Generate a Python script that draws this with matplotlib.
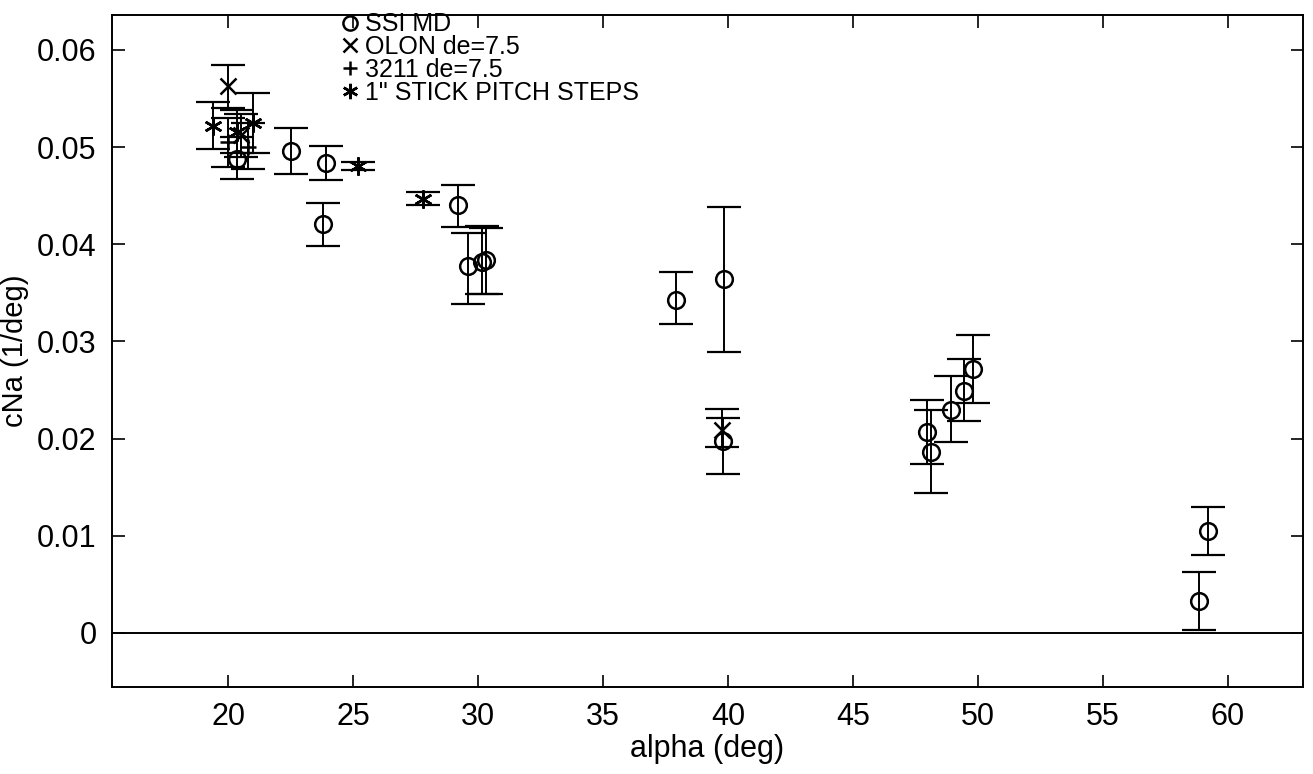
import numpy as np
import matplotlib.pyplot as plt

plt.rcParams['font.family'] = ['Liberation Sans', 'DejaVu Sans']

# SSI MD estimates: alpha, cNa, lower / upper bound of the error bar
ssi_alpha = [20.35, 22.5, 23.9, 23.8, 29.2, 29.6, 30.15, 30.3, 37.9, 39.85, 39.8,
             47.95, 48.1, 48.9, 49.45, 49.8, 58.85, 59.2]
ssi_cna = [0.0488, 0.0496, 0.0484, 0.0421, 0.0440, 0.0378, 0.0382, 0.0384, 0.0343,
           0.0364, 0.0198, 0.0207, 0.0186, 0.0230, 0.0249, 0.0272, 0.0033, 0.0105]
ssi_lo = [0.0467, 0.0472, 0.0466, 0.0398, 0.0418, 0.0339, 0.0349, 0.0349, 0.0318,
          0.0289, 0.0164, 0.0174, 0.0144, 0.0197, 0.0218, 0.0237, 0.0003, 0.0080]
ssi_hi = [0.0510, 0.0520, 0.0501, 0.0443, 0.0461, 0.0412, 0.0419, 0.0417, 0.0372,
          0.0438, 0.0221, 0.0240, 0.0229, 0.0264, 0.0282, 0.0307, 0.0063, 0.0130]

# OLON de=7.5
olon_alpha = [20.0, 20.5, 39.75]
olon_cna = [0.0563, 0.0512, 0.0209]
olon_lo = [0.0540, 0.0490, 0.0191]
olon_hi = [0.0585, 0.0534, 0.0231]

# 3211 de=7.5
m3211_alpha = [20.0, 20.8]
m3211_cna = [0.0505, 0.0500]
m3211_lo = [0.0480, 0.0478]
m3211_hi = [0.0530, 0.0525]

# 1" stick pitch steps
step_alpha = [19.4, 20.35, 21.0, 25.2, 27.8]
step_cna = [0.0522, 0.0516, 0.0525, 0.0481, 0.0447]
step_lo = [0.0498, 0.0494, 0.0494, 0.0476, 0.0440]
step_hi = [0.0546, 0.0538, 0.0556, 0.0485, 0.0454]

fig = plt.figure(figsize=(13.13, 7.74), dpi=100)
ax = fig.add_axes([0.0853, 0.1124, 0.9071, 0.8682])

def eb(x, y, lo, hi, marker, ms, label):
    y = np.array(y)
    err = [y - np.array(lo), np.array(hi) - y]
    ax.errorbar(x, y, yerr=err, fmt='none', ecolor='black', elinewidth=1.4,
                capsize=12, capthick=1.6)
    ax.plot(x, y, linestyle='none', marker=marker, ms=ms, mfc='none',
            mec='black', mew=1.8, label=label)

eb(ssi_alpha, ssi_cna, ssi_lo, ssi_hi, 'o', 12, 'SSI MD')
eb(olon_alpha, olon_cna, olon_lo, olon_hi, 'x', 12, 'OLON de=7.5')
eb(m3211_alpha, m3211_cna, m3211_lo, m3211_hi, '+', 12, '3211 de=7.5')
eb(step_alpha, step_cna, step_lo, step_hi, (6, 2, 0), 13, '1" STICK PITCH STEPS')

ax.axhline(0, color='black', lw=1.4)

ax.set_xlim(15.35, 63.0)
ax.set_ylim(-0.00556, 0.0636)
ax.set_xticks(np.arange(20, 61, 5))
ax.set_yticks([0, 0.01, 0.02, 0.03, 0.04, 0.05, 0.06])
ax.set_yticklabels(['0', '0.01', '0.02', '0.03', '0.04', '0.05', '0.06'])
ax.tick_params(direction='in', length=9, width=1.2, top=True, right=True,
               labelsize=22, pad=11)
for s in ax.spines.values():
    s.set_linewidth(1.4)

ax.set_xlabel('alpha (deg)', fontsize=22, labelpad=1)
ax.set_ylabel('cNa (1/deg)', fontsize=21, labelpad=6)

leg = ax.legend(loc='upper left', bbox_to_anchor=(0.18, 1.03), frameon=False,
                fontsize=18, handlelength=0.5, handletextpad=0.35,
                labelspacing=-0.05, borderpad=0.2, markerscale=0.85)

fig.savefig('out.png', dpi=100)
